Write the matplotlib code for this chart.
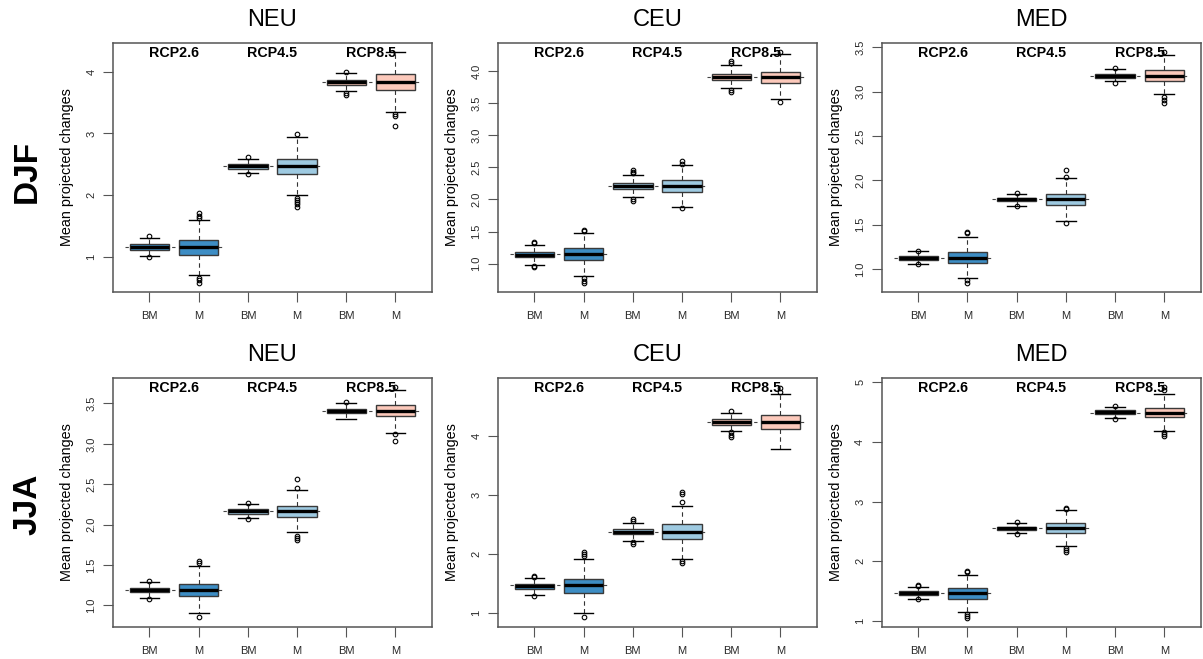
import matplotlib
matplotlib.use("Agg")
import matplotlib.pyplot as plt
import numpy as np

plt.rcParams['font.family'] = ['Liberation Sans', 'DejaVu Sans']

seasons = ["DJF", "JJA"]
regions = ["NEU", "CEU", "MED"]
scenarios = ["RCP2.6", "RCP4.5", "RCP8.5"]
box_labels = ["BM", "M", "BM", "M", "BM", "M"]
fill_colors = ["#3d8dc4", "#3d8dc4", "#9ecae1", "#9ecae1", "#fcc9bb", "#fcc9bb"]

# DJF - NEU
djf_neu_med = [1.16, 1.16, 2.47, 2.48, 3.84, 3.84]
djf_neu_q1 = [1.11, 1.03, 2.43, 2.35, 3.79, 3.71]
djf_neu_q3 = [1.20, 1.28, 2.51, 2.59, 3.87, 3.96]
djf_neu_lo = [1.02, 0.70, 2.36, 2.00, 3.69, 3.35]
djf_neu_hi = [1.31, 1.60, 2.58, 2.94, 3.98, 4.32]
djf_neu_out = [[1.33, 1.00], [1.71, 1.66, 1.63, 0.65, 0.62, 0.58], [2.62, 2.34],
               [2.99, 1.96, 1.92, 1.89, 1.85, 1.81], [4.00, 3.66, 3.63], [3.32, 3.29, 3.12]]

# DJF - CEU
djf_ceu_med = [1.14, 1.156, 2.21, 2.21, 3.906, 3.906]
djf_ceu_q1 = [1.099, 1.057, 2.17, 2.12, 3.86, 3.82]
djf_ceu_q3 = [1.176, 1.24, 2.256, 2.30, 3.95, 3.99]
djf_ceu_lo = [0.98, 0.81, 2.04, 1.88, 3.735, 3.56]
djf_ceu_hi = [1.296, 1.48, 2.385, 2.535, 4.09, 4.26]
djf_ceu_out = [[1.34, 1.32, 0.97, 0.95], [1.53, 1.51, 0.77, 0.735, 0.70],
               [2.46, 2.43, 2.41, 2.0, 1.975], [2.6, 2.56, 1.87],
               [4.155, 4.13, 3.70, 3.67], [4.30, 3.52]]

# DJF - MED
djf_med_med = [1.128, 1.128, 1.783, 1.783, 3.18, 3.18]
djf_med_q1 = [1.105, 1.068, 1.765, 1.72, 3.157, 3.12]
djf_med_q3 = [1.147, 1.19, 1.80, 1.85, 3.20, 3.24]
djf_med_lo = [1.06, 0.90, 1.715, 1.545, 3.115, 2.97]
djf_med_hi = [1.20, 1.365, 1.85, 2.025, 3.25, 3.41]
djf_med_out = [[1.207, 1.053], [1.418, 1.40, 0.88, 0.84], [1.86, 1.71],
               [2.04, 2.12, 1.52], [3.27, 3.10], [3.45, 2.935, 2.905, 2.87]]

# JJA - NEU
jja_neu_med = [1.19, 1.194, 2.165, 2.17, 3.41, 3.41]
jja_neu_q1 = [1.161, 1.116, 2.136, 2.095, 3.38, 3.343]
jja_neu_q3 = [1.219, 1.27, 2.194, 2.235, 3.434, 3.475]
jja_neu_lo = [1.095, 0.90, 2.08, 1.905, 3.31, 3.14]
jja_neu_hi = [1.285, 1.483, 2.25, 2.434, 3.50, 3.67]
jja_neu_out = [[1.306, 1.08], [1.55, 1.53, 0.85], [2.27, 2.07],
               [2.56, 2.45, 1.86, 1.835, 1.805], [3.516], [3.70, 3.12, 3.03]]

# JJA - CEU
jja_ceu_med = [1.45, 1.47, 2.376, 2.376, 4.237, 4.237]
jja_ceu_q1 = [1.41, 1.34, 2.33, 2.26, 4.187, 4.108]
jja_ceu_q3 = [1.49, 1.58, 2.415, 2.50, 4.277, 4.356]
jja_ceu_lo = [1.30, 1.0, 2.22, 1.914, 4.085, 3.775]
jja_ceu_hi = [1.60, 1.92, 2.53, 2.816, 4.378, 4.705]
jja_ceu_out = [[1.63, 1.615, 1.29], [2.03, 2.0, 1.965, 0.93], [2.585, 2.555, 2.20, 2.17],
               [3.05, 3.01, 2.88, 1.88, 1.846], [4.41, 4.057, 4.01, 3.97], [4.80, 4.74]]

# JJA - MED
jja_med_med = [1.47, 1.47, 2.55, 2.55, 4.5, 4.49]
jja_med_q1 = [1.43, 1.37, 2.516, 2.466, 4.464, 4.414]
jja_med_q3 = [1.50, 1.554, 2.578, 2.645, 4.53, 4.565]
jja_med_lo = [1.37, 1.15, 2.466, 2.253, 4.40, 4.19]
jja_med_hi = [1.57, 1.77, 2.64, 2.858, 4.59, 4.805]
jja_med_out = [[1.6, 1.58, 1.36], [1.83, 1.81, 1.12, 1.085, 1.05], [2.65, 2.455],
               [2.90, 2.88, 2.225, 2.186, 2.147], [4.61, 4.385], [4.93, 4.88, 4.167, 4.134, 4.095]]

# y-axis limits and ticks per panel
ylims = [[(0.43, 4.47), (0.56, 4.44), (0.74, 3.55)],
         [(0.735, 3.82), (0.77, 4.98), (0.90, 5.08)]]
yticks = [[[1, 2, 3, 4], [1.0, 1.5, 2.0, 2.5, 3.0, 3.5, 4.0], [1.0, 1.5, 2.0, 2.5, 3.0, 3.5]],
          [[1.0, 1.5, 2.0, 2.5, 3.0, 3.5], [1, 2, 3, 4], [1, 2, 3, 4, 5]]]
yticklabels = [[["1", "2", "3", "4"], ["1.0", "1.5", "2.0", "2.5", "3.0", "3.5", "4.0"],
                ["1.0", "1.5", "2.0", "2.5", "3.0", "3.5"]],
               [["1.0", "1.5", "2.0", "2.5", "3.0", "3.5"], ["1", "2", "3", "4"],
                ["1", "2", "3", "4", "5"]]]

panel_data = [
    [(djf_neu_med, djf_neu_q1, djf_neu_q3, djf_neu_lo, djf_neu_hi, djf_neu_out),
     (djf_ceu_med, djf_ceu_q1, djf_ceu_q3, djf_ceu_lo, djf_ceu_hi, djf_ceu_out),
     (djf_med_med, djf_med_q1, djf_med_q3, djf_med_lo, djf_med_hi, djf_med_out)],
    [(jja_neu_med, jja_neu_q1, jja_neu_q3, jja_neu_lo, jja_neu_hi, jja_neu_out),
     (jja_ceu_med, jja_ceu_q1, jja_ceu_q3, jja_ceu_lo, jja_ceu_hi, jja_ceu_out),
     (jja_med_med, jja_med_q1, jja_med_q3, jja_med_lo, jja_med_hi, jja_med_out)],
]

fig = plt.figure(figsize=(12.03, 6.59), dpi=100)

col_left = [0.094, 0.414, 0.733]
row_bottom = [0.557, 0.049]
ax_w, ax_h = 0.265, 0.378
positions = np.arange(1, 7)
frame_col = "#555555"

for r in range(2):
    for c in range(3):
        ax = fig.add_axes([col_left[c], row_bottom[r], ax_w, ax_h])
        med, q1, q3, lo, hi, out = panel_data[r][c]
        stats = []
        for i in range(6):
            stats.append(dict(med=med[i], q1=q1[i], q3=q3[i],
                              whislo=lo[i], whishi=hi[i], fliers=out[i]))

        # dashed reference line at the M median across each scenario pair
        for g in range(3):
            ax.hlines(med[2 * g + 1], 2 * g + 0.5, 2 * g + 2.5, colors="#444444",
                      linewidth=0.8, linestyles=(0, (3, 4)), zorder=1)

        bp = ax.bxp(stats, positions=positions, widths=0.8, capwidths=0.4,
                    patch_artist=True, manage_ticks=False,
                    boxprops=dict(edgecolor="#3a3a3a", linewidth=1.0),
                    medianprops=dict(color="black", linewidth=2.4, solid_capstyle="butt"),
                    whiskerprops=dict(color="#333333", linewidth=0.8, linestyle=(0, (4, 3))),
                    capprops=dict(color="black", linewidth=1.0),
                    flierprops=dict(marker="o", markersize=3.3, markerfacecolor="none",
                                    markeredgecolor="black", markeredgewidth=0.8))
        for patch, col in zip(bp["boxes"], fill_colors):
            patch.set_facecolor(col)
            patch.set_zorder(2)

        ax.set_xlim(0.26, 6.74)
        ax.set_ylim(*ylims[r][c])
        ax.set_xticks(positions)
        ax.set_xticklabels(box_labels)
        ax.set_yticks(yticks[r][c])
        ax.set_yticklabels(yticklabels[r][c], rotation=90, va="center")
        ax.tick_params(axis="both", length=7, width=0.8, color=frame_col,
                       labelsize=8, labelcolor="#2a2a2a")
        ax.tick_params(axis="x", pad=7)
        ax.tick_params(axis="y", pad=5)
        for s in ax.spines.values():
            s.set_color(frame_col)
            s.set_linewidth(1.1)

        ax.set_ylabel("Mean projected changes", fontsize=10.4, labelpad=9)
        ax.set_title(regions[c], fontsize=17, pad=12)

        for g, scen in enumerate(scenarios):
            ax.text(2 * g + 1.5, 0.96, scen, transform=ax.get_xaxis_transform(),
                    ha="center", va="center", fontsize=10.3, fontweight="bold")

fig.text(0.023, 0.74, seasons[0], rotation=90, ha="center", va="center",
         fontsize=24, fontweight="bold")
fig.text(0.023, 0.234, seasons[1], rotation=90, ha="center", va="center",
         fontsize=24, fontweight="bold")

fig.savefig("out.png", dpi=100)
